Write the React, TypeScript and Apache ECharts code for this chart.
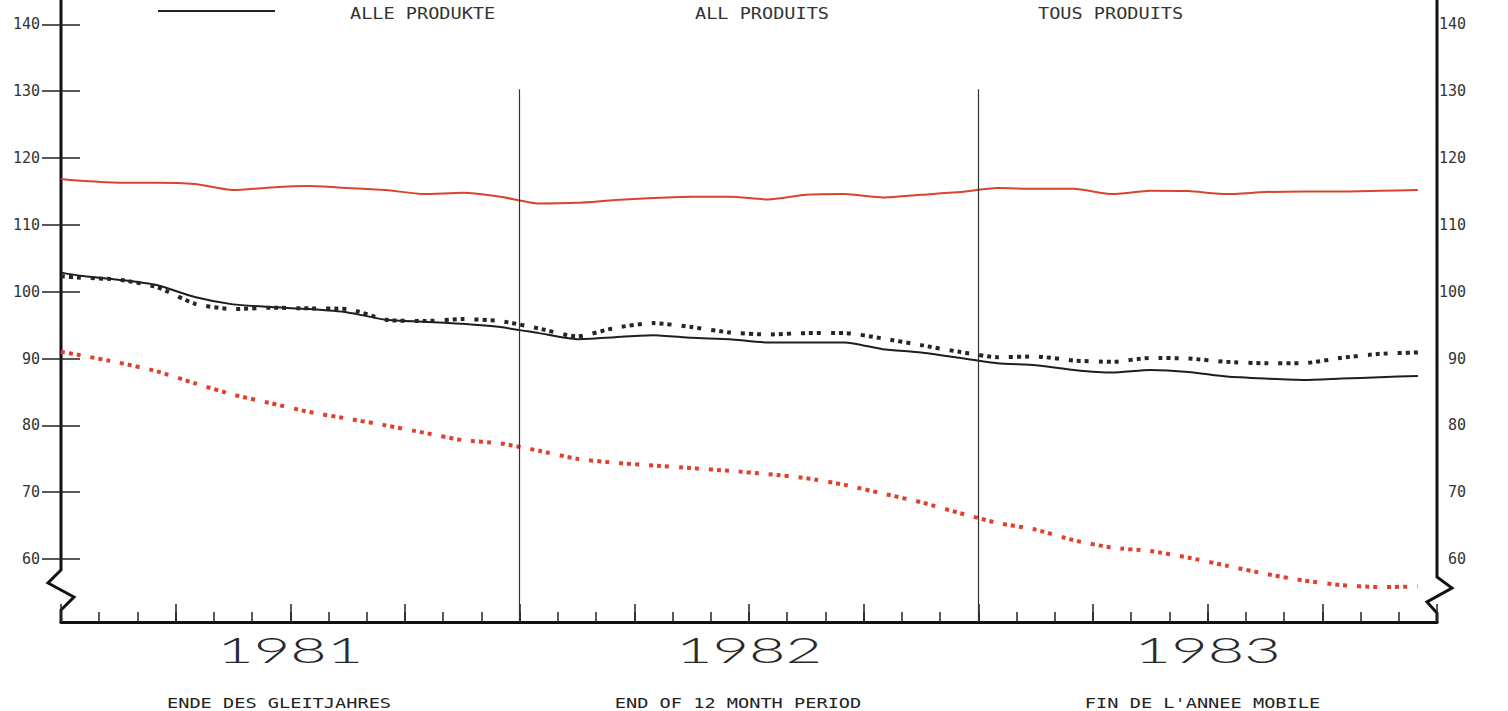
import React, { useEffect, useRef } from 'react';
import * as echarts from 'echarts';

// x positions in months from Jan 1981 (first value sits on the axis, then one value per month)
const monthPos = [0, 0.5, 1.5, 2.5, 3.5, 4.5, 5.5, 6.5, 7.5, 8.5, 9.5, 10.5, 11.5,
  12.5, 13.5, 14.5, 15.5, 16.5, 17.5, 18.5, 19.5, 20.5, 21.5, 22.5, 23.5,
  24.5, 25.5, 26.5, 27.5, 28.5, 29.5, 30.5, 31.5, 32.5, 33.5, 34.5, 35.5];

const redSolid = [116.85, 116.6, 116.3, 116.3, 116.1, 115.2, 115.6, 115.8, 115.5, 115.2, 114.6, 114.8, 114.2,
  113.2, 113.3, 113.7, 114.0, 114.2, 114.2, 113.8, 114.5, 114.6, 114.1, 114.5, 114.9,
  115.5, 115.4, 115.4, 114.6, 115.1, 115.05, 114.6, 114.9, 115.0, 115.0, 115.1, 115.2];

const blackSolid = [102.85, 102.4, 101.8, 101.0, 99.2, 98.1, 97.7, 97.4, 96.9, 95.8, 95.5, 95.2, 94.7,
  93.8, 92.9, 93.2, 93.5, 93.1, 92.9, 92.4, 92.4, 92.4, 91.4, 90.9, 90.1,
  89.3, 89.0, 88.3, 87.9, 88.3, 88.0, 87.3, 87.0, 86.8, 87.0, 87.2, 87.4];

const blackDotted = [102.3, 102.1, 101.8, 100.7, 98.2, 97.4, 97.6, 97.5, 97.4, 95.8, 95.6, 95.9, 95.6,
  94.5, 93.3, 94.6, 95.3, 94.7, 93.9, 93.6, 93.8, 93.8, 93.0, 92.0, 91.0,
  90.2, 90.3, 89.7, 89.5, 90.1, 90.0, 89.5, 89.3, 89.3, 90.1, 90.7, 90.9];

const redDotted = [91.0, 90.5, 89.4, 88.1, 86.3, 84.6, 83.3, 82.0, 81.0, 80.0, 78.9, 77.8, 77.3,
  76.2, 75.0, 74.4, 74.0, 73.6, 73.2, 72.7, 72.1, 71.1, 69.8, 68.5, 66.9,
  65.4, 64.4, 62.8, 61.7, 61.2, 60.2, 59.0, 57.8, 56.8, 56.1, 55.8, 55.9];

const yTicks = [60, 70, 80, 90, 100, 110, 120, 130, 140];
const yearBreaks = [12, 24];
const years = ['1981', '1982', '1983'];
const yearMid = [6, 18, 30];
const legendLabels = ['ALLE PRODUKTE', 'ALL PRODUITS', 'TOUS PRODUITS'];
const footLabels = ['ENDE DES GLEITJAHRES', 'END OF 12 MONTH PERIOD', "FIN DE L'ANNEE MOBILE"];

const Y_MIN = 50.58;
const Y_MAX = 143.64;
const FONT = '"DejaVu Sans Mono", monospace';
const DOTS = [4, 4, 4, 4, 4, 10];

export default function App() {
  const ref = useRef<HTMLDivElement>(null);

  useEffect(() => {
    document.body.style.margin = '0';
    const chart = echarts.init(ref.current!, null, { renderer: 'svg' });
    const pair = (arr: number[]) => monthPos.map((m, i) => [m, arr[i]]);

    const yAxisBase = (right: boolean) => ({
      type: 'value',
      min: Y_MIN,
      max: Y_MAX,
      position: right ? 'right' : 'left',
      splitLine: { show: false },
      axisLine: { show: false },
      axisTick: {
        show: true,
        inside: true,
        length: 19,
        customValues: yTicks,
        lineStyle: { color: '#222', width: 1.5 },
      },
      axisLabel: {
        customValues: yTicks,
        fontFamily: FONT,
        fontSize: 15,
        color: '#333',
        margin: right ? 29 : 21,
        align: 'right',
        verticalAlign: 'middle',
        padding: [0, 0, 11, 0],
      },
    });

    const xAxisBase = (interval: number, len: number, showLine: boolean) => ({
      type: 'value',
      min: 0,
      max: 36,
      interval,
      position: 'bottom',
      splitLine: { show: false },
      axisLabel: { show: false },
      axisLine: { show: showLine, lineStyle: { color: '#111', width: 3 } },
      axisTick: { show: true, inside: true, length: len, lineStyle: { color: '#222', width: 1.5 } },
    });

    const chartOption: any = {
      animation: false,
      backgroundColor: '#ffffff',
      grid: { left: 61, right: 71, top: 0, bottom: 89, containLabel: false },
      xAxis: [xAxisBase(1, 10, true), xAxisBase(3, 18, false)],
      yAxis: [yAxisBase(false), yAxisBase(true)],
      series: [
        {
          type: 'line',
          name: 'redSolid',
          data: pair(redSolid),
          showSymbol: false,
          smooth: 0.2,
          lineStyle: { color: '#d9452a', width: 2 },
          markLine: {
            silent: true,
            symbol: 'none',
            label: { show: false },
            lineStyle: { color: '#333', width: 1.2, type: 'solid' },
            data: yearBreaks.map((m) => [{ coord: [m, Y_MIN] }, { coord: [m, 130.3] }]),
          },
        },
        {
          type: 'line',
          name: 'blackSolid',
          data: pair(blackSolid),
          showSymbol: false,
          smooth: 0.2,
          lineStyle: { color: '#1e1e1e', width: 2 },
        },
        {
          type: 'line',
          name: 'blackDotted',
          data: pair(blackDotted),
          showSymbol: false,
          smooth: 0.2,
          lineStyle: { color: '#252525', width: 4, type: DOTS, cap: 'butt' },
        },
        {
          type: 'line',
          name: 'redDotted',
          data: pair(redDotted),
          showSymbol: false,
          smooth: 0.2,
          lineStyle: { color: '#e2402c', width: 4, type: DOTS, cap: 'butt' },
        },
      ],
    };
    chart.setOption(chartOption);

    const px = (m: number) => chart.convertToPixel({ xAxisIndex: 0 }, m) as number;

    const graphic: any[] = [
      {
        type: 'polyline',
        silent: true,
        shape: { points: [[61, 0], [61, 570], [48, 583], [74, 597], [61, 610], [61, 623]] },
        style: { stroke: '#111', lineWidth: 3, fill: 'none' },
      },
      {
        type: 'polyline',
        silent: true,
        shape: { points: [[1437, 0], [1437, 577], [1452, 588], [1427, 602], [1437, 613], [1437, 623]] },
        style: { stroke: '#111', lineWidth: 3, fill: 'none' },
      },
      {
        type: 'line',
        silent: true,
        shape: { x1: 158, y1: 11, x2: 275, y2: 11 },
        style: { stroke: '#222', lineWidth: 2 },
      },
    ];
    const legendX = [350, 695, 1038];
    legendLabels.forEach((t, i) => {
      graphic.push({
        type: 'text',
        silent: true,
        x: legendX[i],
        y: 13,
        scaleX: 1.16,
        style: { text: t, fontFamily: FONT, fontSize: 16, fill: '#333', align: 'left', verticalAlign: 'middle' },
      });
    });
    years.forEach((t, i) => {
      graphic.push({
        type: 'text',
        silent: true,
        x: px(yearMid[i]),
        y: 650,
        scaleX: 1.8,
        style: {
          text: t,
          fontFamily: 'Lato, "DejaVu Sans", sans-serif',
          fontWeight: 300,
          fontSize: 35,
          fill: '#2a2a2a',
          align: 'center',
          verticalAlign: 'middle',
        },
      });
    });
    const footX = [279, 738, 1202.5];
    footLabels.forEach((t, i) => {
      graphic.push({
        type: 'text',
        silent: true,
        x: footX[i],
        y: 703,
        scaleX: 1.38,
        style: {
          text: t,
          fontFamily: FONT,
          fontSize: 13.5,
          lineHeight: 14,
          fill: '#222',
          align: 'center',
          verticalAlign: 'middle',
        },
      });
    });
    chart.setOption({ graphic });

    return () => chart.dispose();
  }, []);

  return (
    <div
      ref={ref}
      style={{ position: 'fixed', left: 0, top: 0, width: 1508, height: 711, background: '#fff' }}
    />
  );
}
